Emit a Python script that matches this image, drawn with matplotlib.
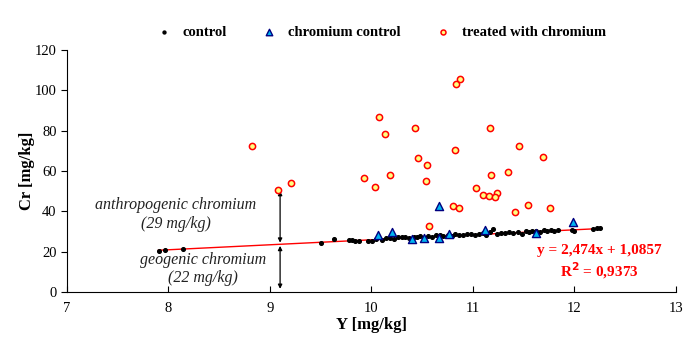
import numpy as np
import matplotlib.pyplot as plt

plt.rcParams['font.family'] = ['Liberation Serif', 'DejaVu Serif']

# control samples (black dots)
control_x = [7.91, 7.97, 8.14, 9.50, 9.63, 9.78, 9.81, 9.84, 9.88, 9.97,
             10.01, 10.05, 10.10, 10.14, 10.18, 10.22, 10.26, 10.30, 10.33, 10.37,
             10.42, 10.45, 10.48, 10.52, 10.56, 10.60, 10.64, 10.68, 10.71, 10.75,
             10.79, 10.82, 10.86, 10.90, 10.94, 10.98, 11.02, 11.06, 11.10, 11.13,
             11.17, 11.20, 11.24, 11.28, 11.32, 11.36, 11.40, 11.44, 11.48, 11.52,
             11.55, 11.58, 11.62, 11.66, 11.70, 11.73, 11.77, 11.80, 11.84, 11.98,
             12.00, 12.18, 12.22, 12.25]
control_y = [20.2, 20.6, 21.1, 24.4, 26.3, 25.6, 25.5, 25.2, 25.4, 25.3,
             25.4, 26.0, 25.9, 26.8, 26.5, 26.1, 27.3, 27.0, 27.2, 26.9,
             27.4, 27.0, 27.6, 26.9, 27.5, 27.2, 28.0, 28.4, 27.8, 28.2,
             27.5, 28.6, 28.1, 28.4, 28.8, 28.5, 28.0, 28.9, 29.2, 28.3,
             29.6, 31.2, 28.6, 29.0, 29.4, 29.8, 29.2, 29.6, 28.9, 30.0,
             29.7, 30.3, 30.1, 29.8, 30.6, 30.2, 30.9, 30.4, 30.8, 30.5,
             30.0, 31.2, 31.6, 31.9]

# chromium control (triangles)
crctrl_x = [10.06, 10.20, 10.40, 10.52, 10.67, 10.67, 10.76, 11.12, 11.62, 11.99]
crctrl_y = [28.4, 29.9, 26.3, 26.9, 26.9, 42.8, 28.6, 30.6, 29.4, 34.7]

# treated with chromium (circles)
treated_x = [8.82, 9.08, 9.21, 10.87, 10.83, 10.07, 10.13, 10.43, 11.17, 10.82,
             11.45, 10.46, 10.55, 9.93, 10.18, 10.54, 10.04, 11.18, 11.35, 11.03,
             11.10, 11.16, 11.24, 11.22, 11.69, 10.80, 10.86, 10.57, 11.42, 11.54,
             11.76]
treated_y = [72.4, 50.6, 54.0, 105.4, 103.2, 86.7, 78.3, 81.0, 81.0, 70.3,
             72.3, 66.3, 62.9, 56.6, 58.1, 55.1, 52.1, 58.1, 59.6, 51.6,
             48.1, 47.6, 49.1, 46.8, 66.8, 42.8, 41.7, 32.9, 39.8, 43.2,
             41.8]

slope = 2.474
intercept = 1.0857
fit_range = [7.9, 12.25]

fig = plt.figure(figsize=(6.91, 3.39), dpi=100)
ax = fig.add_axes([0.097, 0.139, 0.881, 0.714])

xs = np.array(fit_range)
ax.plot(xs, slope * xs + intercept, color='red', lw=1.0, zorder=2)

ax.scatter(control_x, control_y, s=7, color='black', zorder=3, label='control')
ax.scatter(crctrl_x, crctrl_y, s=34, marker='^', facecolor='#00B4F0',
           edgecolor='#000080', linewidth=1.0, zorder=4, label='chromium control')
ax.scatter(treated_x, treated_y, s=20, marker='o', facecolor='#FFFF80',
           edgecolor='red', linewidth=1.1, zorder=4, label='treated with chromium')

# arrows for geogenic / anthropogenic parts
xa = 9.1
yl = slope * xa + intercept
ax.annotate('', xy=(xa, 1.5), xytext=(xa, yl - 0.8),
            arrowprops=dict(arrowstyle='<|-|>', color='black', lw=0.9,
                            mutation_scale=6, shrinkA=0, shrinkB=0))
ax.annotate('', xy=(xa, yl + 0.8), xytext=(xa, 50.0),
            arrowprops=dict(arrowstyle='<|-|>', color='black', lw=0.9,
                            mutation_scale=6, shrinkA=0, shrinkB=0))

ax.text(8.07, 38.3, 'anthropogenic chromium\n(29 mg/kg)', ha='center', va='center',
        style='italic', fontsize=11.5, color='#222222', linespacing=1.2)
ax.text(8.34, 11.3, 'geogenic chromium\n(22 mg/kg)', ha='center', va='center',
        style='italic', fontsize=11.5, color='#222222', linespacing=1.2)

ax.text(12.25, 20.3, 'y = 2,474x + 1,0857', ha='center', va='center',
        color='red', fontweight='bold', fontsize=11)
ax.text(12.25, 10.4, 'R$^{\\mathbf{2}}$ = 0,9373', ha='center', va='center',
        color='red', fontweight='bold', fontsize=11)

ax.set_xlim(7, 13)
ax.set_ylim(0, 120)
ax.set_xticks(range(7, 14))
ax.set_yticks(range(0, 121, 20))
ax.spines['top'].set_visible(False)
ax.spines['right'].set_visible(False)
ax.tick_params(axis='x', direction='in', length=4, labelsize=10.5, pad=7)
ax.tick_params(axis='y', direction='out', length=4, labelsize=10.5)

ax.set_xlabel('Y [mg/kg]', fontweight='bold', fontsize=12, labelpad=2)
ax.set_ylabel('Cr [mg/kg]', fontweight='bold', fontsize=12, labelpad=0)

ax.legend(loc='lower center', bbox_to_anchor=(0.51, 1.02), ncol=3, frameon=False,
          prop={'weight': 'bold', 'size': 10.5}, handletextpad=0.3,
          columnspacing=1.9, borderaxespad=0, markerscale=0.8)

fig.savefig('out.png', dpi=100)
